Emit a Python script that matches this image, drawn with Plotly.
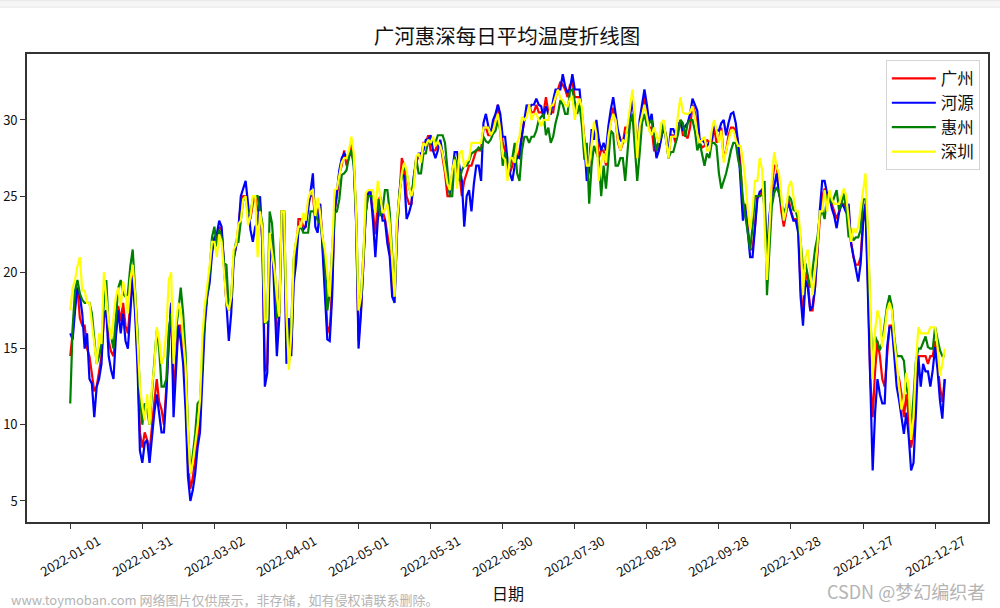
import pandas as pd
import plotly.graph_objects as go

# Daily mean temperature, one value per day of 2022
guangzhou = [
    14.5,16,18,19,17,16.5,16.5,15,14.5,13.2, 12.2,12.5,13.5,14.5,17,17.5,15.5,14.8,14.5,16.2,
    17.8,16.8,18,16.5,16,18,20,17.8,14.5,9.5, 8.5,9.5,9,8.2,10,11.5,13,11.5,11,10,
    12.5,15.5,18,12,14,16.5,16.5,15,12,7.5, 5.8,6.5,7.8,9,10.5,14,17,18.5,19.8,21.5,
    22,22.2,23,22.8,20.5,18,17.5,18,21,21.7, 23,24.5,25,25,24,23.5,24.5,25,24,24.5,
    22,13.5,14,21.5,22.5,19.5,15.5,17.5,24,24, 15,15,15,20,21,23.5,23.5,23,23,24.5,
    25,25,23.5,24,24.5,22,19.5,16.5,16,19, 24,25,26.5,27,28,27,27.5,28.5,27.5,23.5,
    15.5,17.5,20.5,24,25.3,25,24,22.5,24.5,25, 24,23.5,22.5,21.5,19,18.5,22.5,25,27.5,27,
    25,24.5,24.5,26,27.5,27.5,27.5,28.5,28.5,29, 28,28,28,28.5,28.5,27.5,26.5,25,25,26.5,
    27.5,26.5,26.5,25,26,26.5,27,27,27.5,28, 28,28,29.5,29.5,29,29,29.5,30,31,30,
    28.5,28,27,26.5,27,27.5,27.5,28,29,30, 30.5,31,30.5,30.5,31,30.5,30.5,30.5,31.5,30.5,
    30.5,30.5,31.5,32,32.5,32.3,32,31.5,32.3,32.5, 31.5,31.5,31.5,30.5,28.5,27,27,29,29,29.5,
    27.5,28,28,27,29,30,30.8,30,28.5,28, 28.5,29.5,29.5,30.5,31.5,30,27.5,29.5,30.5,31.5,
    30.5,29.5,29.5,28,28,28,29,29.5,29,27.5, 29,29,28.5,29.5,30,29,29,28.8,29.5,31,
    30.5,29.5,28.5,28.2,28.3,28.7,28.5,28.5,29.5,28.5, 28.8,29.5,27.5,28,29,29.5,29.5,29.3,28.5,27,
    24,24.5,23,21.5,21.5,23,25,25,25.5,24.5, 20,23,25.5,27,27,25.5,24,23,24,24.8,
    24,23.5,23.5,23,19,17,20,19.5,17.5,17.5, 19,21.5,23.5,25,25.5,25,25,24.5,24,23.5,
    24,24.5,24.5,24,24,22,21,20.5,20.5,21, 23.5,24.5,19.5,13,10.5,13.5,15.5,14.5,13,12.5,
    14.5,16.5,16.5,15,13.5,13,12,10.5,12,10.5, 8.5,9.5,12,14.5,14.5,14.5,14.5,14,14.5,14.5,
    15.5,14,12.5,11.5,13,
]
heyuan = [
    16,15.6,17.5,19,18.5,17.3,15,16,13,12.7, 10.5,12.5,13,14,17.3,17.5,14.5,13.6,13,15.8,
    17.5,16,17.3,15.5,15,17.3,19.7,17.3,13.8,8.3, 7.5,8.8,9,7.5,9.2,10.8,12,10.8,9.5,9.5,
    12,15.5,18,10.5,13.8,16.5,15.5,14,11,6.6, 5,5.7,6.8,8.5,9.5,13,16.5,18.4,19.3,21.2,
    22.3,22.5,23.4,23,20.4,17.3,15.5,17.3,20.8,21.7, 22.8,25,25.5,26,24.5,22.8,22,23,23.2,25,
    21.7,12.5,13.4,20.6,22.3,18,14.5,17,23.7,24, 14,17,14.5,19.3,20.6,22.8,23,22.8,23,24.1,
    25.4,26.5,23,22.6,24.5,21.3,18.6,15.6,15.5,18.4, 23.9,25.2,26.7,27.5,27.8,27.6,27.6,28,27.2,23.2,
    15,17.3,20.8,23.9,25.3,25.3,23.4,21,23.4,24.8, 23.4,23.4,21.9,21,18.4,18,22.6,25.2,26.5,26.3,
    23.5,23.9,24.5,26.3,27.2,27.8,27.8,28,28.7,28.7, 29,28,27.5,28,28.7,27.8,27.2,25.8,25.2,26.5,
    27.9,27.9,26.9,26,23,25,25.4,24,25.8,27, 27,26,29.8,30.4,29.6,29.1,30,30.4,31,30.4,
    28.9,28.9,27.4,26.5,26,27,27.6,27.5,29,30, 31,30.7,31,31,31.4,31,30.9,30.2,30.9,30.4,
    30.4,31.3,32,32,32,33,32.2,31.8,32,33, 32,32,32,30.2,28.5,26,26.7,29.4,28.7,30,
    28.7,28,28.5,28,29.6,30.7,31.5,30.4,29.3,28.7, 28.5,29,29.3,30.2,31.5,29.6,27.8,30,31,32,
    31,29.8,30.4,28.7,27.5,28,28.9,29.6,28.7,27.8, 29.4,29.4,29,29.8,29.8,29.3,29.6,29.8,30.4,31.4,
    31,30.6,28.7,28.7,28.5,28.3,28.5,28.7,29.8,29.3, 29.3,29.8,30,29,29.8,30.4,30.5,29.8,28.5,25.5,
    23.4,24.4,22.8,21,21,22.8,24.8,25.3,25.4,24.3, 21,23.7,25,25.6,26.5,25.2,24.5,23.4,24.1,24.5,
    23.9,23.4,23.4,22.6,18.4,16.5,19.5,19,17.5,17.8, 19,21.7,24.1,26,26,25.2,25,24.2,23.7,22.9,
    23.9,24.5,24.3,23.9,24.5,21.9,21,20.2,19.4,20.6, 23.2,24.5,18.8,11.8,7,10.8,13,12,11.4,11.4,
    15.1,16.4,16.4,14.5,12.5,11.6,10.5,9.4,10.8,9.2, 7,7.5,10.8,14.5,12.5,14,13.5,13.5,12.5,13.6,
    15.1,13.6,11.6,10.4,13,
]
huizhou = [
    11.4,16.4,18.8,19.5,18.6,18.2,18,18,18,17.3, 15.6,14,14.5,15.3,18,19.5,16.4,15.8,15,16.9,
    19,19.5,18.6,18.4,18.6,20.4,21.5,18.8,16.2,12, 10,11.4,11,10,12,14.3,16.2,15,12.5,12.5,
    13,16.2,17.3,14.3,16.2,17.5,19,17.3,14.7,9.7, 6.8,8,9.4,11.4,11.6,14.7,17.5,18.6,20,22.3,
    23,21.7,22.8,22.3,20.6,20.5,17.5,18.4,21,22, 22,23.4,24.8,24.8,23.9,23.9,24.8,25,25,24,
    23.2,16.7,16.7,24,23.2,20.8,17,17.3,24,24, 17,14,16.5,20.8,22,22.8,23,22.6,22.6,22.6,
    24,24,24,23.4,23.2,22.3,20.8,17.5,18.6,21.5, 23.9,24,24.8,26.4,26.5,26.7,27.6,28,27,23.9,
    17.5,18.4,21.5,23.9,25,25,25,24.1,24.8,23.7, 24.1,25.4,25.4,23.9,21,18.4,23.2,25.2,26.3,27,
    26.5,25.6,25,26.3,27.5,26.5,26.5,27.8,27.8,28.7, 28.5,28.7,28.5,29,29,29,28.5,26.5,25,25,
    27.6,27,26,26.7,27,27,27.3,27.8,27.9,28, 28.2,28,28.9,28.6,28.5,28.7,29.1,29.3,30,29.3,
    27,27.9,26.5,27,27.5,28.5,26.5,26,28,28.9, 28.9,28.5,28.9,28.9,29.3,30,30.2,30.4,29,29.5,
    28.5,28.9,29.8,30.4,31.3,31,30.4,30.4,31.9,32, 31.2,30.4,31,29.6,27.4,28.5,24.5,27,28.3,27.8,
    27.4,25,27,25.5,27.6,29.3,29.1,27,27,27.5, 27.5,26,28,29.8,30.4,28,26,27.8,29.8,30.4,
    29.6,29.8,30,28.9,28,28.7,28.9,29.8,28.9,27.5, 27.9,27.9,28.5,29.1,30,29.8,28.9,29.8,30,30,
    29.3,28,28.5,27.8,27,27.8,27.5,28.5,28.5,28.3, 26.5,25.5,26,26.5,27.2,28,28.5,28.5,27.4,26.7,
    24.8,23.7,22.3,21.5,23,25,25,25,25.1,26, 18.5,21.7,24.3,25.2,25.6,25.2,24.5,23.9,24.3,25,
    24.8,24.1,24,23.4,22.1,20.2,20.6,19.9,19,20.2, 21.5,22.3,23.7,24.1,23.5,25,25.2,24.5,25,25.4,
    24.1,24.5,25.2,24.1,22.3,22.6,22.1,22.3,22.3,22.8, 24.8,24.8,22.8,17,14,15.8,15.4,14.9,15.4,16.7,
    17.8,18.5,17.8,15.8,14.5,14.5,14.5,14.2,12.5,11.8, 9.7,11.8,14.2,15,15,15.4,15.8,15.1,15,15,
    16.4,15.6,14.9,14.5,14.5,
]
shenzhen = [
    17.5,19,19.5,20.4,21,18.8,18.8,18,18,16.7, 15.3,14,16,15.3,20,18.4,16.7,15.6,17,18.4,
    19,17.7,19.4,18.6,17.3,19.5,20.5,18.6,15.6,12.5, 11.2,10.3,12,10,12.5,13.8,16.4,15.6,14,14.5,
    16.2,19.5,20,14,16.7,18,17.5,15.6,13.8,9.7, 6.8,7.5,8.6,9.9,11.6,15.8,17.8,19,20.4,22,
    22,21,22.5,22,20,18,17.5,18.4,21.5,21.8, 23.2,23.4,24.8,25,23.1,23.7,25,25,21,24,
    22.8,16.7,16.9,22.6,21.3,20.2,18.4,17.1,24,24, 17.3,13.6,16,21,22.1,23,23,23.9,23.4,24.8,
    25.3,25.4,23.7,24.9,23.9,22.3,21.5,20,18.4,21.5, 25.4,25.5,26.5,27.2,27.5,27.5,28,28.9,27.8,23.9,
    17.5,18.4,21,25.2,25.4,25.4,25.4,23.9,26,25, 23.9,24.1,24.5,23.2,20.4,18.4,23.4,25.2,26.5,27.2,
    26.7,25.6,25,25.6,27.6,27.8,27.2,28.5,28.3,28.7, 28.5,28.9,28.3,28.6,28.3,27.8,26.9,25.8,25.4,26.7,
    27.4,25.5,27.8,28,26.9,27.3,27.4,28.5,28.5,28.5, 28.5,28.5,29.5,29.5,29.5,29,29.3,29.9,30.4,29.3,
    27.6,27.4,26,27.5,27.5,27.2,28.5,28.9,30.2,30, 30.2,31,30,30.4,30.4,30,29.6,30,30,30,
    30.9,31,31.5,32,31.4,31.3,31,30.9,31.4,31.5, 30,31,31.4,30.8,28.5,27,27,28.5,29.9,29.1,
    26,27.2,27.8,27.2,28.9,29.8,30.4,30,28.7,28, 28.7,28.5,29.8,31,32,30.2,27.5,29.6,30.3,31,
    30.2,29.3,29,29.5,29,28.5,29.8,30,28.7,27.5, 28.9,28.9,28.9,30.4,31.5,30.5,30.4,30.4,30.5,30.9,
    30.2,29.1,28.5,28.7,28.9,28,28,29.3,30,29.3, 28.5,29.3,27.2,28,28.7,29.3,29.3,28.7,28.3,28.3,
    27.4,26,24.1,22.8,24.1,26,26,27.5,26.7,23.2, 19.5,22.8,26,27.9,26.9,26.5,24.8,23.4,24.1,25.6,
    26,25,24,24,22.3,18.5,21,21.5,20,18.5, 20,21.7,24,24,25.4,24,25.4,24.8,24.5,24.5,
    24.5,25,25.5,25,23.7,22,22.9,22.6,23,24.3, 25.6,26.5,22.8,17,13,16.2,17.5,16.9,15.1,16.2,
    17.5,18,17.5,15.6,14.2,12.5,11,11.8,13.4,12.5, 9,10.5,14,16.4,16,16,16,16,16.4,16.4,
    16.4,15.1,13.2,14,15,
]

tick_dates = ["2022-01-01", "2022-01-31", "2022-03-02", "2022-04-01", "2022-05-01", "2022-05-31", "2022-06-30",
              "2022-07-30", "2022-08-29", "2022-09-28", "2022-10-28", "2022-11-27", "2022-12-27"]
y_ticks = [5, 10, 15, 20, 25, 30]

dates = pd.date_range("2022-01-01", periods=365)

fig = go.Figure()
for name, values, color in [("广州", guangzhou, "red"), ("河源", heyuan, "blue"),
                            ("惠州", huizhou, "green"), ("深圳", shenzhen, "yellow")]:
    fig.add_trace(go.Scatter(x=dates, y=values, mode="lines", name=name,
                             line=dict(color=color, width=2.2)))

axis_style = dict(showgrid=False, zeroline=False, showline=True, mirror=True, linecolor="#333333", linewidth=1.6,
                  ticks="outside", ticklen=5, tickcolor="#333333", tickwidth=1.2, automargin=False)
# date labels are annotations: plotly right-aligns rotated tick labels, the reference centres them on the tick
fig.update_xaxes(range=["2021-12-14", "2023-01-18"], tickvals=tick_dates, showticklabels=False, **axis_style)
fig.update_yaxes(range=[3.62, 34.33], tickvals=y_ticks, tickfont=dict(size=13), **axis_style)

notes = [
    dict(text="日期", xref="paper", yref="paper", x=0.5, y=-0.151, xanchor="center", yanchor="middle",
         showarrow=False, font=dict(size=16)),
    dict(text="www.toymoban.com 网络图片仅供展示，非存储，如有侵权请联系删除。", xref="paper", yref="paper",
         x=-0.0185, y=-0.166, xanchor="left", yanchor="middle", showarrow=False, font=dict(size=13, color="#b4b4b4")),
    dict(text="CSDN @梦幻编织者", xref="paper", yref="paper", x=0.9985, y=-0.148, xanchor="right", yanchor="middle",
         showarrow=False, font=dict(size=18, color="#b4b4b4")),
]
for d in tick_dates:
    notes.append(dict(text=d, xref="x", yref="paper", x=d, y=-0.0726, xanchor="center", yanchor="middle",
                      textangle=-30, showarrow=False, font=dict(size=13)))

fig.update_layout(
    width=1000, height=608, autosize=False,
    margin=dict(l=27, r=12, t=54, b=86),
    paper_bgcolor="white", plot_bgcolor="white",
    font=dict(family="Noto Sans CJK SC, DejaVu Sans", color="#111111"),
    title=dict(text="广河惠深每日平均温度折线图", font=dict(size=20.5), x=0.507, xanchor="center", y=0.94, yanchor="middle"),
    legend=dict(x=0.9915, xanchor="right", y=0.987, yanchor="top", bgcolor="rgba(255,255,255,0.8)",
                bordercolor="#d5d5d5", borderwidth=1, font=dict(size=16.5), itemwidth=44),
    shapes=[
        dict(type="rect", xref="paper", yref="paper", x0=-0.03, x1=1.02, y0=1.1, y1=1.114, layer="below",
             fillcolor="#f6f6f6", line=dict(color="#e6e6e6", width=1)),
    ],
    annotations=notes,
)

# body margin would push the fixed-size plot 8px down and right
fig.write_html("out.html", config={"displayModeBar": False}, post_script="document.body.style.margin='0';")
